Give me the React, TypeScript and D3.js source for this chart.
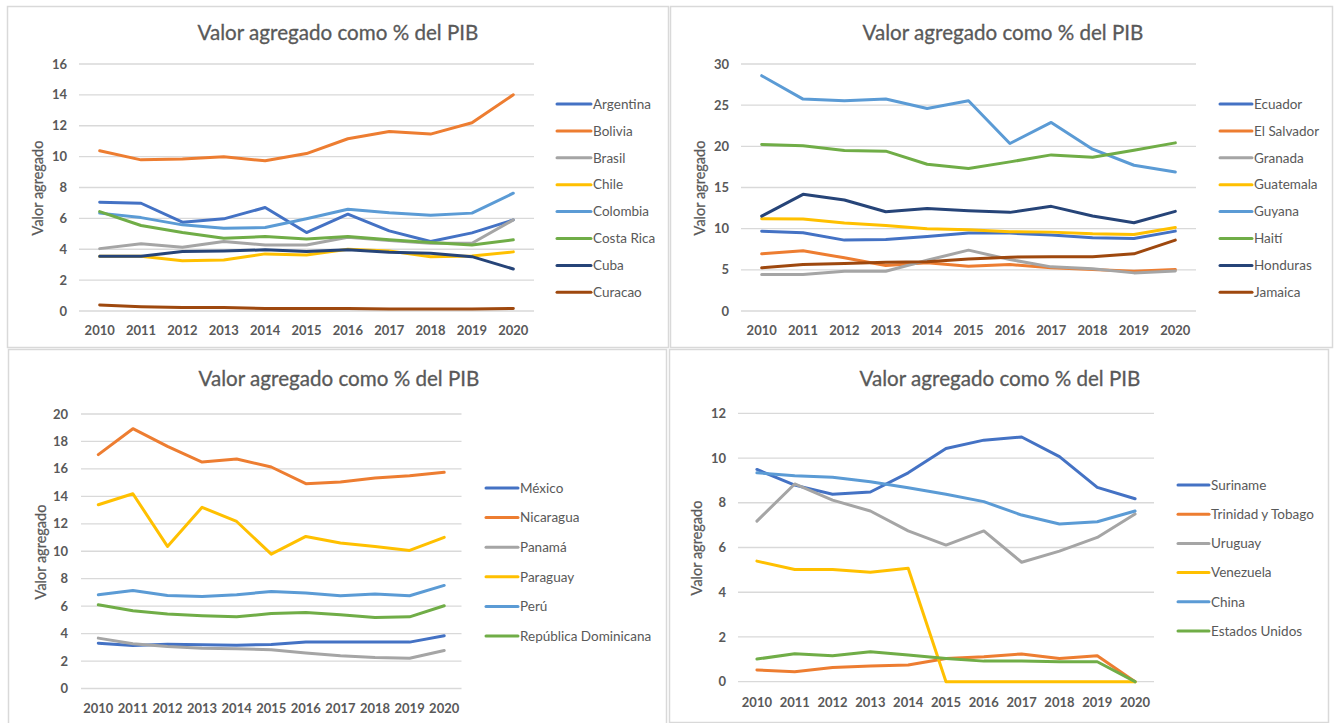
import React from "react";
import * as d3 from "d3";

const years = ["2010", "2011", "2012", "2013", "2014", "2015", "2016", "2017", "2018", "2019", "2020"];
const chartTitle = "Valor agregado como % del PIB";
const yAxisTitle = "Valor agregado";

// Panel 1
const p1Names = ["Argentina", "Bolivia", "Brasil", "Chile", "Colombia", "Costa Rica", "Cuba", "Curacao"];
const argentina = [7.05, 6.98, 5.75, 5.97, 6.7, 5.08, 6.27, 5.19, 4.5, 5.06, 5.9];
const bolivia = [10.38, 9.79, 9.84, 9.99, 9.73, 10.2, 11.16, 11.63, 11.46, 12.19, 14.01];
const brasil = [4.04, 4.35, 4.13, 4.5, 4.28, 4.28, 4.78, 4.56, 4.39, 4.39, 5.9];
const chile = [3.55, 3.55, 3.26, 3.31, 3.7, 3.63, 4.0, 3.89, 3.52, 3.57, 3.83];
const colombia = [6.34, 6.05, 5.58, 5.36, 5.41, 5.97, 6.59, 6.36, 6.21, 6.34, 7.63];
const costaRica = [6.44, 5.54, 5.08, 4.71, 4.82, 4.67, 4.82, 4.61, 4.43, 4.28, 4.61];
const cuba = [3.55, 3.55, 3.85, 3.89, 3.96, 3.85, 3.96, 3.81, 3.74, 3.52, 2.72];
const curacao = [0.39, 0.28, 0.22, 0.22, 0.17, 0.17, 0.17, 0.13, 0.13, 0.13, 0.17];
const p1Ticks = [0, 2, 4, 6, 8, 10, 12, 14, 16];

// Panel 2
const p2Names = ["Ecuador", "El Salvador", "Granada", "Guatemala", "Guyana", "Haití", "Honduras", "Jamaica"];
const ecuador = [9.7, 9.5, 8.61, 8.69, 9.05, 9.46, 9.46, 9.22, 8.89, 8.81, 9.7];
const elSalvador = [6.94, 7.31, 6.46, 5.52, 5.85, 5.44, 5.64, 5.24, 5.03, 4.83, 5.03];
const granada = [4.43, 4.43, 4.83, 4.83, 6.17, 7.39, 6.25, 5.36, 5.12, 4.63, 4.87];
const guatemala = [11.21, 11.17, 10.68, 10.39, 9.99, 9.87, 9.62, 9.58, 9.38, 9.3, 10.15];
const guyana = [28.58, 25.74, 25.54, 25.74, 24.6, 25.54, 20.34, 22.9, 19.65, 17.7, 16.89];
const haiti = [20.22, 20.06, 19.49, 19.41, 17.82, 17.3, 18.11, 18.96, 18.68, 19.53, 20.42];
const honduras = [11.53, 14.17, 13.48, 12.06, 12.46, 12.18, 11.98, 12.71, 11.53, 10.72, 12.1];
const jamaica = [5.24, 5.64, 5.77, 5.93, 5.97, 6.33, 6.54, 6.58, 6.58, 6.94, 8.61];
const p2Ticks = [0, 5, 10, 15, 20, 25, 30];

// Panel 3
const p3Names = ["México", "Nicaragua", "Panamá", "Paraguay", "Perú", "República Dominicana"];
const mexico = [3.3, 3.13, 3.23, 3.18, 3.16, 3.21, 3.38, 3.38, 3.38, 3.38, 3.84];
const nicaragua = [17.04, 18.93, 17.64, 16.5, 16.72, 16.14, 14.92, 15.04, 15.33, 15.5, 15.75];
const panama = [3.67, 3.26, 3.06, 2.94, 2.89, 2.82, 2.58, 2.38, 2.26, 2.21, 2.77];
const paraguay = [13.39, 14.19, 10.35, 13.2, 12.17, 9.79, 11.08, 10.6, 10.35, 10.06, 11.01];
const peru = [6.83, 7.14, 6.78, 6.71, 6.83, 7.07, 6.95, 6.76, 6.88, 6.76, 7.51];
const repDominicana = [6.1, 5.66, 5.42, 5.3, 5.22, 5.47, 5.54, 5.37, 5.18, 5.22, 6.03];
const p3Ticks = [0, 2, 4, 6, 8, 10, 12, 14, 16, 18, 20];

// Panel 4
const p4Names = ["Suriname", "Trinidad y Tobago", "Uruguay", "Venezuela", "China", "Estados Unidos"];
const suriname = [9.49, 8.79, 8.38, 8.48, 9.34, 10.43, 10.8, 10.94, 10.06, 8.69, 8.18];
const trinidad = [0.52, 0.45, 0.63, 0.7, 0.75, 1.04, 1.12, 1.24, 1.04, 1.16, 0];
const uruguay = [7.18, 8.84, 8.12, 7.63, 6.74, 6.11, 6.74, 5.34, 5.84, 6.45, 7.5];
const venezuela = [5.39, 5.02, 5.02, 4.89, 5.07, 0, 0, 0, 0, 0, 0];
const china = [9.34, 9.21, 9.14, 8.94, 8.67, 8.38, 8.05, 7.45, 7.05, 7.15, 7.63];
const estadosUnidos = [1.01, 1.25, 1.16, 1.34, 1.19, 1.04, 0.92, 0.92, 0.89, 0.89, 0];
const p4Ticks = [0, 2, 4, 6, 8, 10, 12];

const palette = ["#4472C4", "#ED7D31", "#A5A5A5", "#FFC000", "#5B9BD5", "#70AD47", "#264478", "#9E480E"];

const FONT = "Lato, 'Open Sans', sans-serif";
const TEXT = "#595959";

type PanelCfg = {
  frame: [number, number, number, number];
  titleX: number;
  titleY: number;
  x0: number;
  x1: number;
  top: number;
  bottom: number;
  ticks: number[];
  tickRight: number;
  xLabelY: number;
  yLabX: number;
  yLabY: number;
  legLineX0: number;
  legLineX1: number;
  legTextX: number;
  legY0: number;
  legDy: number;
  names: string[];
  values: number[][];
};

const panels: PanelCfg[] = [
  {
    frame: [7, 6, 661, 341], titleX: 338, titleY: 40,
    x0: 79, x1: 534, top: 64, bottom: 311, ticks: p1Ticks, tickRight: 67, xLabelY: 335,
    yLabX: 38, yLabY: 188, legLineX0: 557, legLineX1: 591, legTextX: 593, legY0: 104, legDy: 26.9,
    names: p1Names, values: [argentina, bolivia, brasil, chile, colombia, costaRica, cuba, curacao],
  },
  {
    frame: [670, 6, 662, 341], titleX: 1003, titleY: 40,
    x0: 741, x1: 1196, top: 64, bottom: 311, ticks: p2Ticks, tickRight: 729, xLabelY: 335,
    yLabX: 700, yLabY: 188, legLineX0: 1220, legLineX1: 1252, legTextX: 1254, legY0: 104, legDy: 26.9,
    names: p2Names, values: [ecuador, elSalvador, granada, guatemala, guyana, haiti, honduras, jamaica],
  },
  {
    frame: [8, 349, 658, 378], titleX: 339, titleY: 386,
    x0: 81, x1: 461.5, top: 414, bottom: 688.5, ticks: p3Ticks, tickRight: 68, xLabelY: 713,
    yLabX: 41, yLabY: 552, legLineX0: 486, legLineX1: 518, legTextX: 520, legY0: 488, legDy: 29.6,
    names: p3Names, values: [mexico, nicaragua, panama, paraguay, peru, repDominicana],
  },
  {
    frame: [669, 349, 659, 373], titleX: 1000, titleY: 386,
    x0: 738, x1: 1154, top: 413.3, bottom: 681.7, ticks: p4Ticks, tickRight: 726, xLabelY: 707,
    yLabX: 697, yLabY: 548, legLineX0: 1178, legLineX1: 1209, legTextX: 1211, legY0: 485, legDy: 29.2,
    names: p4Names, values: [suriname, trinidad, uruguay, venezuela, china, estadosUnidos],
  },
];

function Panel({ cfg }: { cfg: PanelCfg }) {
  const x = d3.scalePoint<string>().domain(years).range([cfg.x0, cfg.x1]).padding(0.5);
  const yMax = cfg.ticks[cfg.ticks.length - 1];
  const y = d3.scaleLinear().domain([0, yMax]).range([cfg.bottom, cfg.top]);
  const line = d3
    .line<number>()
    .x((_, i) => x(years[i]) as number)
    .y((d) => y(d));
  const [fx, fy, fw, fh] = cfg.frame;
  return (
    <g>
      <rect x={fx + 0.5} y={fy + 0.5} width={fw} height={fh} fill="#fff" stroke="#D9D9D9" strokeWidth={1.5} />
      <text x={cfg.titleX} y={cfg.titleY} textAnchor="middle" fontFamily={FONT} fontSize={20.6} fill={TEXT} stroke={TEXT} strokeWidth={0.3}>
        {chartTitle}
      </text>
      {cfg.ticks.map((t) => (
        <g key={t}>
          <line x1={cfg.x0} x2={cfg.x1} y1={y(t)} y2={y(t)} stroke="#D9D9D9" strokeWidth={1.3} />
          <text x={cfg.tickRight} y={y(t)} dy="0.35em" textAnchor="end" fontFamily={FONT} fontWeight="bold" fontSize={13} fill={TEXT}>
            {t}
          </text>
        </g>
      ))}
      {years.map((yr) => (
        <text key={yr} x={x(yr)} y={cfg.xLabelY} textAnchor="middle" fontFamily={FONT} fontWeight="bold" fontSize={13} fill={TEXT}>
          {yr}
        </text>
      ))}
      <text
        transform={`translate(${cfg.yLabX},${cfg.yLabY}) rotate(-90)`}
        textAnchor="middle"
        dy="0.35em"
        fontFamily={FONT}
        fontSize={14.5}
        fill={TEXT}
        stroke={TEXT}
        strokeWidth={0.25}
      >
        {yAxisTitle}
      </text>
      {cfg.values.map((vals, i) => (
        <path
          key={cfg.names[i]}
          d={line(vals) || ""}
          fill="none"
          stroke={palette[i]}
          strokeWidth={3}
          strokeLinejoin="round"
          strokeLinecap="round"
        />
      ))}
      {cfg.names.map((n, i) => {
        const ly = cfg.legY0 + i * cfg.legDy;
        return (
          <g key={n}>
            <line x1={cfg.legLineX0} x2={cfg.legLineX1} y1={ly} y2={ly} stroke={palette[i]} strokeWidth={3} strokeLinecap="round" />
            <text x={cfg.legTextX} y={ly} dy="0.35em" fontFamily={FONT} fontSize={13.5} fill={TEXT}>
              {n}
            </text>
          </g>
        );
      })}
    </g>
  );
}

export default function App() {
  return (
    <svg
      width={1335}
      height={723}
      style={{ position: "absolute", left: 0, top: 0, background: "#fff" }}
    >
      <rect x={0} y={0} width={1335} height={723} fill="#fff" />
      {panels.map((p, i) => (
        <Panel key={i} cfg={p} />
      ))}
    </svg>
  );
}
